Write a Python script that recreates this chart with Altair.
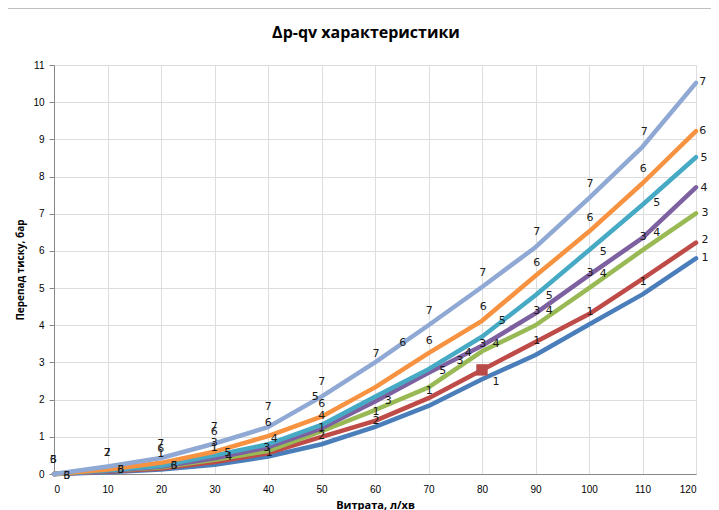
import altair as alt
import pandas as pd

# ---- data ----
flow = [0, 10, 20, 30, 40, 50, 60, 70, 80, 90, 100, 110, 120]
s1 = [0, 0.05, 0.12, 0.25, 0.47, 0.80, 1.27, 1.83, 2.55, 3.20, 4.02, 4.83, 5.80]
s2 = [0, 0.07, 0.15, 0.32, 0.56, 1.00, 1.43, 2.04, 2.80, 3.55, 4.30, 5.25, 6.22]
s3 = [0, 0.08, 0.18, 0.38, 0.62, 1.15, 1.72, 2.33, 3.30, 4.00, 5.00, 6.02, 7.01]
s4 = [0, 0.08, 0.20, 0.42, 0.72, 1.23, 1.95, 2.72, 3.45, 4.32, 5.35, 6.35, 7.71]
s5 = [0, 0.10, 0.22, 0.50, 0.80, 1.32, 2.08, 2.82, 3.69, 4.81, 6.02, 7.24, 8.52]
s6 = [0, 0.12, 0.30, 0.60, 1.02, 1.54, 2.33, 3.25, 4.12, 5.33, 6.52, 7.82, 9.22]
s7 = [0, 0.20, 0.43, 0.82, 1.26, 2.08, 3.00, 4.00, 5.03, 6.10, 7.42, 8.80, 10.52]
series_names = ["1", "2", "3", "4", "5", "6", "7"]
series_colors = ["#4A7EBB", "#BE4B48", "#98B954", "#7D60A0", "#46AAC5", "#F69240", "#8FA9D4"]

# scattered data labels (x, y, text)
lab_x = [-0.13, -0.13, 2.37, 2.37, 9.96, 9.96, 12.47, 12.47,
         19.94, 19.94, 19.94, 22.43, 22.43,
         29.96, 29.96, 29.96, 29.96, 32.47, 32.65,
         40.06, 40.06, 41.18, 39.76, 40.24,
         50.04, 48.84, 50.04, 50.04, 50.04, 50.04,
         60.19, 62.49, 60.19, 60.19, 65.18,
         70.15, 70.15, 72.65, 70.15, 75.89, 77.44,
         80.13, 80.24, 83.79, 80.13, 82.62, 82.62,
         90.22, 90.22, 92.58, 90.22, 92.58, 90.22,
         100.19, 100.19, 102.67, 100.19, 102.67, 100.19,
         110.34, 110.15, 112.65, 110.15, 112.65, 110.15,
         121.25, 121.25, 121.5, 121.5, 121.68, 121.68, 121.68]
lab_y = [0.38, 0.38, -0.05, -0.05, 0.56, 0.56, 0.11, 0.11,
         0.81, 0.66, 0.54, 0.22, 0.22,
         1.26, 1.12, 0.83, 0.69, 0.56, 0.47,
         1.81, 1.38, 0.93, 0.69, 0.56,
         2.48, 2.06, 1.88, 1.57, 1.23, 1.02,
         3.23, 1.97, 1.68, 1.43, 3.52,
         4.38, 3.59, 2.78, 2.24, 3.05, 3.26,
         5.40, 4.48, 4.12, 3.50, 3.50, 2.48,
         6.52, 5.68, 4.79, 4.39, 4.39, 3.59,
         7.80, 6.88, 5.98, 5.40, 5.38, 4.37,
         9.21, 8.20, 7.28, 6.38, 6.47, 5.17,
         10.54, 9.23, 8.49, 7.68, 7.01, 6.29, 5.80]
lab_t = ["3", "6", "3", "6", "7", "2", "3", "6",
         "7", "6", "1", "3", "6",
         "7", "6", "3", "1", "5", "4",
         "7", "6", "4", "3", "1",
         "7", "5", "6", "4", "1", "2",
         "7", "3", "1", "2", "6",
         "7", "6", "5", "1", "3", "4",
         "7", "6", "5", "3", "4", "1",
         "7", "6", "5", "3", "4", "1",
         "7", "6", "5", "3", "4", "1",
         "7", "6", "5", "3", "4", "1",
         "7", "6", "5", "4", "3", "2", "1"]

marker_x = [80]
marker_y = [2.8]

x_ticks = list(range(0, 121, 10))
y_ticks = list(range(0, 12))
chart_title = ["Δp-qv характеристики"]

# ---- tables ----
all_series = [s1, s2, s3, s4, s5, s6, s7]
rows = []
for name, vals in zip(series_names, all_series):
    for xv, yv in zip(flow, vals):
        rows.append({"x": xv, "y": yv, "s": name})
df = pd.DataFrame(rows)
labels = pd.DataFrame({"x": lab_x, "y": lab_y, "t": lab_t})
marker = pd.DataFrame({"x": marker_x, "y": marker_y})

xscale = alt.Scale(domain=[0, 120], nice=False)
yscale = alt.Scale(domain=[0, 11], nice=False)
x_axis = alt.Axis(
    values=x_ticks, title="Витрата, л/хв", ticks=False, labelPadding=10,
    titleFont="Open Sans", titleFontWeight="bold", titleFontSize=11,
    titleY=31, titleBaseline="middle", titleColor="#000000")
y_axis = alt.Axis(
    values=y_ticks, title="Перепад тиску, бар", ticks=True, tickSize=5,
    tickColor="#868686", labelPadding=5,
    titleFont="Open Sans", titleFontWeight="bold", titleFontSize=10,
    titleX=-34, titleY=204.5, titleAngle=-90, titleAlign="center",
    titleBaseline="middle", titleColor="#000000")
X = alt.X("x:Q", scale=xscale, axis=x_axis)
Y = alt.Y("y:Q", scale=yscale, axis=y_axis)

lines = alt.Chart(df).mark_line(strokeWidth=4.5, strokeCap="round", strokeJoin="round").encode(
    x=X, y=Y,
    color=alt.Color("s:N", scale=alt.Scale(domain=series_names, range=series_colors), legend=None),
    order=alt.Order("x:Q"),
)

texts = alt.Chart(labels).mark_text(
    font="DejaVu Sans", fontSize=11, color="#1a1a1a", align="center", baseline="middle"
).encode(x=X, y=Y, text="t:N")

square = alt.Chart(marker).mark_square(size=130, color="#B84A47", opacity=1).encode(x=X, y=Y)

border = alt.Chart(pd.DataFrame({"a": [0]})).mark_rule(color="#BFBFBF", strokeWidth=1).encode(
    x=alt.value(-46), x2=alt.value(660), y=alt.value(-56.5))

title = alt.Chart(pd.DataFrame({"t": chart_title})).mark_text(
    font="Open Sans", fontSize=16, fontWeight="bold", color="#000000",
    align="center", baseline="middle"
).encode(x=alt.value(312), y=alt.value(-32), text="t:N")

chart = alt.layer(border, title, lines, square, texts).properties(
    width=642, height=409,
    autosize=alt.AutoSizeParams(type="none"),
    padding={"left": 46, "top": 57, "right": 15, "bottom": 40},
).configure_view(stroke=None).configure_axis(
    grid=True, gridColor="#D9D9D9", gridWidth=1, domainColor="#868686",
    labelFont="DejaVu Sans", labelFontSize=10, labelColor="#404040",
).configure(background="white")

chart.save("out.html", embed_options={"renderer": "svg", "actions": False})
